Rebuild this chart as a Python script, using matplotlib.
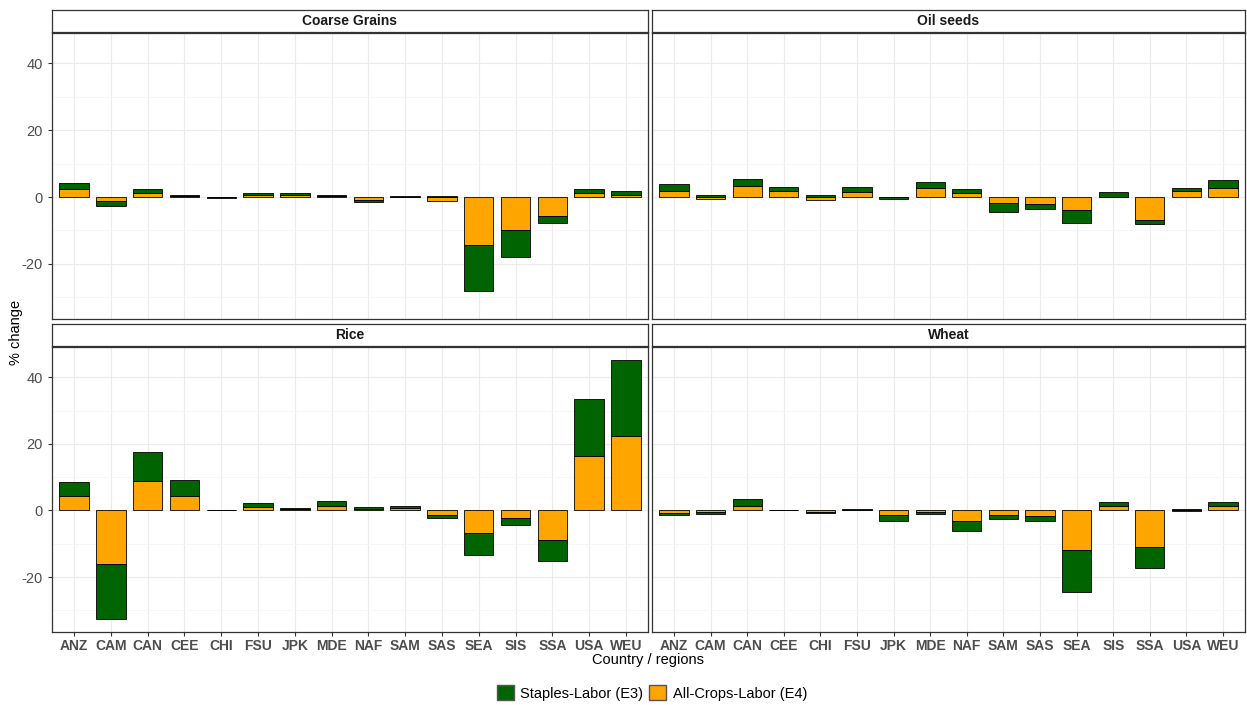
import matplotlib.pyplot as plt
from matplotlib.patches import Patch
import numpy as np

plt.rcParams['font.family'] = ['Liberation Sans', 'DejaVu Sans']

# ---- data ----
regions = ['ANZ', 'CAM', 'CAN', 'CEE', 'CHI', 'FSU', 'JPK', 'MDE',
           'NAF', 'SAM', 'SAS', 'SEA', 'SIS', 'SSA', 'USA', 'WEU']
crops = ['Coarse Grains', 'Oil seeds', 'Rice', 'Wheat']

# All-Crops-Labor (E4), drawn next to zero
e4_coarse = [2.3, -1.3, 1.3, 0.35, -0.1, 0.6, 0.7, 0.2, -0.9, 0.1, -1.3, -14.2, -9.9, -5.8, 1.1, 0.6]
e4_oil = [1.9, -0.6, 3.4, 1.7, -0.8, 1.6, -0.1, 2.8, 1.1, -1.8, -2.2, -4.0, 0.1, -7.0, 1.8, 2.8]
e4_rice = [4.4, -16.2, 8.8, 4.4, 0.05, 1.1, 0.4, 1.3, 0.5, 0.6, -1.3, -6.8, -2.2, -8.8, 16.3, 22.4]
e4_wheat = [-0.7, -0.6, 1.3, 0.05, -0.4, 0.2, -1.3, -0.5, -3.1, -1.3, -1.6, -11.9, 1.3, -10.9, -0.3, 1.3]

# Staples-Labor (E3), stacked outside
e3_coarse = [2.0, -1.4, 1.2, 0.35, -0.1, 0.5, 0.6, 0.3, -0.5, 0.1, 0.2, -14.0, -8.1, -2.1, 1.3, 1.1]
e3_oil = [1.9, 0.7, 2.1, 1.3, 0.6, 1.3, -0.5, 1.7, 1.4, -2.7, -1.3, -3.9, 1.3, -1.1, 1.0, 2.2]
e3_rice = [4.2, -16.4, 8.8, 4.7, 0.05, 1.2, 0.4, 1.6, 0.5, 0.6, -1.1, -6.5, -2.2, -6.3, 17.1, 22.8]
e3_wheat = [-0.7, -0.6, 2.2, 0.05, -0.4, 0.3, -2.0, -0.7, -3.0, -1.2, -1.5, -12.6, 1.3, -6.5, 0.5, 1.3]

e4_all = [e4_coarse, e4_oil, e4_rice, e4_wheat]
e3_all = [e3_coarse, e3_oil, e3_rice, e3_wheat]

green = '#006400'
orange = '#FFA500'
grey30 = '#4D4D4D'
grey20 = '#333333'

W, H = 1247, 705
fig = plt.figure(figsize=(W / 100, H / 100), dpi=100)

def fx(px):
    return px / W

def fy(px):
    return 1 - px / H

# panel boxes in pixels: (left, top, right, bottom)
panels = [(52, 33, 648, 319), (652, 33, 1245, 319),
          (52, 347, 648, 632), (652, 347, 1245, 632)]
strip_h = 22

# shared y range with ggplot-like 5% expansion
tops, bots = [], []
for a, b in zip(e4_all, e3_all):
    for v4, v3 in zip(a, b):
        tops.append(max(v4, 0) + max(v3, 0))
        bots.append(min(v4, 0) + min(v3, 0))
ymax, ymin = max(tops), min(bots)
pad = 0.05 * (ymax - ymin)
ylim = (ymin - pad, ymax + pad)

x = np.arange(len(regions))

for i, (l, t, r, b) in enumerate(panels):
    ax = fig.add_axes([fx(l), fy(b), fx(r - l), (b - t) / H])
    ax.set_xlim(-0.6, len(regions) - 0.4)
    ax.set_ylim(*ylim)
    ax.set_yticks([-20, 0, 20, 40])
    ax.set_yticks([-30, -10, 10, 30], minor=True)
    ax.set_xticks(x)
    ax.grid(True, which='major', color='#EBEBEB', lw=0.8)
    ax.grid(True, which='minor', axis='y', color='#F5F5F5', lw=0.6)
    ax.set_axisbelow(True)
    for s in ax.spines.values():
        s.set_color(grey20)
        s.set_linewidth(0.9)

    # stack E4 first, E3 beyond it (positives and negatives separately)
    pos = np.zeros(len(regions))
    neg = np.zeros(len(regions))
    for vals, col in [(e4_all[i], orange), (e3_all[i], green)]:
        v = np.array(vals)
        bottom = np.where(v >= 0, pos, neg)
        ax.bar(x, v, bottom=bottom, width=0.8, color=col,
               edgecolor='black', linewidth=0.6)
        pos = pos + np.where(v >= 0, v, 0)
        neg = neg + np.where(v < 0, v, 0)

    ax.tick_params(which='both', color=grey20, length=3, width=0.8)
    ax.tick_params(which='minor', length=0)
    if i % 2 == 0:
        ax.set_yticklabels(['-20', '0', '20', '40'], fontsize=10.5, color=grey30)
    else:
        ax.tick_params(axis='y', length=0, labelleft=False)
    if i >= 2:
        ax.set_xticklabels(regions, fontsize=10, fontweight='bold', color=grey30)
        ax.tick_params(axis='x', pad=2)
    else:
        ax.tick_params(axis='x', length=0, labelbottom=False)

    # facet strip
    sax = fig.add_axes([fx(l), fy(t - 1), fx(r - l), strip_h / H])
    sax.set_xticks([])
    sax.set_yticks([])
    sax.set_facecolor('white')
    for s in sax.spines.values():
        s.set_color(grey20)
        s.set_linewidth(0.9)
    sax.text(0.5, 0.5, crops[i], ha='center', va='center',
             fontsize=10, fontweight='bold', color='#1A1A1A', transform=sax.transAxes)

fig.text(fx(16), fy(332), '% change', rotation=90, ha='center', va='center', fontsize=10.5)
fig.text(fx(648), fy(660), 'Country / regions', ha='center', va='center', fontsize=10.5)

handles = [Patch(facecolor=green, edgecolor='#555555', label='Staples-Labor (E3)'),
           Patch(facecolor=orange, edgecolor='#555555', label='All-Crops-Labor (E4)')]
fig.legend(handles=handles, loc='center', bbox_to_anchor=(fx(652), fy(693)),
           ncol=2, frameon=False, fontsize=10.5, handlelength=1.15, handleheight=1.15,
           handletextpad=0.45, columnspacing=0.4, borderpad=0)

fig.savefig('out.png', dpi=100)
